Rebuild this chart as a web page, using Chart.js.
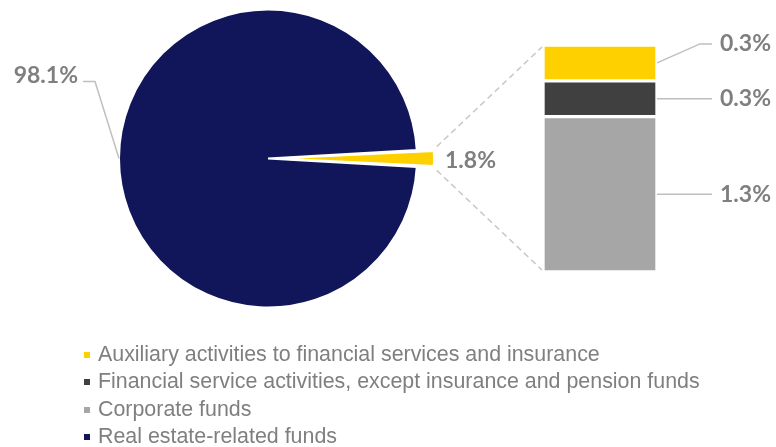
<!DOCTYPE html>
<html>
<head>
<meta charset="utf-8">
<script src="https://cdn.jsdelivr.net/npm/chart.js@4.4.1/dist/chart.umd.min.js"></script>
<style>
  html, body { margin: 0; padding: 0; background: #fff; }
  #wrap { position: relative; width: 776px; height: 447px; overflow: hidden; }
  #wrap canvas { position: absolute; left: 0; top: 0; }
  #legend {
    position: absolute; left: 84px; top: 341px; margin: 0; padding: 0; list-style: none;
    font: 21.4px "Liberation Sans", Arial, sans-serif; color: #7f7f7f;
    line-height: 27.4px; white-space: nowrap;
  }
  #legend li { position: relative; padding-left: 14px; }
  #legend li span { position: absolute; left: 0; top: 11px; width: 6px; height: 6px; }
</style>
</head>
<body>
<div id="wrap">
  <canvas id="pie" width="776" height="447"></canvas>
  <canvas id="bar" width="776" height="447"></canvas>
  <ul id="legend"></ul>
</div>
<script>
// Sector shares of the fund total (%)
const pieCategories = ['Real estate-related funds', 'Other financial activities'];
const pieValues = [98.1, 1.8];

// Breakdown of the small slice, bottom to top
const barCategories = [
  'Corporate funds',
  'Financial service activities, except insurance and pension funds',
  'Auxiliary activities to financial services and insurance'
];
const barValues = [1.3, 0.3, 0.3];

// Legend entries, top to bottom
const legendLabels = [
  'Auxiliary activities to financial services and insurance',
  'Financial service activities, except insurance and pension funds',
  'Corporate funds',
  'Real estate-related funds'
];

// Styles
const NAVY = '#11165a', YELLOW = '#ffd000', DARK = '#404040', LIGHT = '#a6a6a6';
const pieColors = [NAVY, YELLOW];
const barColors = [LIGHT, DARK, YELLOW];
const legendColors = [YELLOW, DARK, LIGHT, NAVY];
const LABEL_FONT = 'bold 23px Lato, "Open Sans", sans-serif';
const TEXT_COLOR = '#7f7f7f';
const LEADER_COLOR = '#bfbfbf';
const DASH_COLOR = '#c8c8c8';
const SLICE_PULL = 17;               // px the small slice's tip is pulled out
const fmt = v => v.toFixed(1) + '%';

const pieTotal = pieValues.reduce((a, b) => a + b, 0);
const smallSweep = pieValues[1] / pieTotal * 360;
const smallSweepRad = smallSweep * Math.PI / 180;

// Chart.js v4 arcs translate by offset/4 and grow their radius by
// offset/4 * (1 - sin(circumference)); pick the offset giving SLICE_PULL.
const sliceOffset = 4 * SLICE_PULL / (2 - Math.sin(Math.min(Math.PI, smallSweepRad)));

// Drawn geometry of an arc, including its pull-out
function arcGeometry(arc) {
  const t = (arc.options.offset || 0) / 4;
  const fix = 1 - Math.sin(Math.min(Math.PI, arc.circumference || 0));
  const mid = (arc.startAngle + arc.endAngle) / 2;
  return {
    cx: arc.x + Math.cos(mid) * t,
    cy: arc.y + Math.sin(mid) * t,
    r: arc.outerRadius + t * fix,
    mid
  };
}

// Percentage labels for the pie, with a leader line for the large slice
const pieLabelPlugin = {
  id: 'pieLabels',
  afterDatasetsDraw(chart) {
    const ctx = chart.ctx;
    const arcs = chart.getDatasetMeta(0).data;
    const big = arcs[0], small = arcs[1];
    ctx.save();
    ctx.font = LABEL_FONT;
    ctx.fillStyle = TEXT_COLOR;
    ctx.strokeStyle = LEADER_COLOR;
    ctx.lineWidth = 1.5;

    const ax = big.x - big.outerRadius, ay = big.y;
    const ex = ax - 24, ey = ay - 77;
    ctx.beginPath();
    ctx.moveTo(ax, ay);
    ctx.lineTo(ex, ey);
    ctx.lineTo(ex - 12, ey);
    ctx.stroke();
    ctx.textAlign = 'right';
    ctx.textBaseline = 'middle';
    ctx.fillText(fmt(pieValues[0]), ex - 17, ey - 6);

    const g = arcGeometry(small);
    const tx = g.cx + Math.cos(g.mid) * g.r;
    const ty = g.cy + Math.sin(g.mid) * g.r;
    ctx.textAlign = 'left';
    ctx.fillText(fmt(pieValues[1]), tx + 11, ty + 2);
    ctx.restore();
  }
};

const pieChart = new Chart(document.getElementById('pie'), {
  type: 'pie',
  data: {
    labels: pieCategories,
    datasets: [{
      data: pieValues,
      backgroundColor: pieColors,
      borderColor: '#ffffff',
      borderWidth: 2,
      offset: [0, sliceOffset],
      radius: 149
    }]
  },
  options: {
    responsive: false,
    animation: false,
    events: [],
    rotation: 90 + smallSweep / 2,
    layout: { padding: { left: 100, right: 340, top: 0, bottom: 130 } },
    plugins: { legend: { display: false }, tooltip: { enabled: false } }
  },
  plugins: [pieLabelPlugin]
});

// Value labels to the right of each stacked segment
const barLabelPlugin = {
  id: 'barLabels',
  afterDatasetsDraw(chart) {
    const ctx = chart.ctx;
    const n = chart.data.datasets.length;
    ctx.save();
    ctx.font = LABEL_FONT;
    ctx.fillStyle = TEXT_COLOR;
    ctx.strokeStyle = LEADER_COLOR;
    ctx.lineWidth = 1.5;
    ctx.textAlign = 'left';
    ctx.textBaseline = 'middle';
    chart.data.datasets.forEach((ds, i) => {
      const bar = chart.getDatasetMeta(i).data[0];
      const right = bar.x + bar.width / 2;
      const cy = (bar.y + bar.base) / 2;
      const lift = i === n - 1 ? 19 : 0;
      const lx = right + 55;
      ctx.beginPath();
      ctx.moveTo(right, cy);
      if (lift) ctx.lineTo(lx - 12, cy - lift);
      ctx.lineTo(lx, cy - lift);
      ctx.stroke();
      ctx.fillText(fmt(ds.data[0]), lx + 8, cy - lift);
    });
    ctx.restore();
  }
};

// Dashed lines joining the pulled-out slice to the stacked column
const connectorPlugin = {
  id: 'connector',
  beforeDatasetsDraw(chart) {
    const arc = pieChart.getDatasetMeta(0).data[1];
    const g = arcGeometry(arc);
    const p1 = { x: g.cx + Math.cos(arc.startAngle) * g.r + 3, y: g.cy + Math.sin(arc.startAngle) * g.r - 3 };
    const p2 = { x: g.cx + Math.cos(arc.endAngle) * g.r + 3, y: g.cy + Math.sin(arc.endAngle) * g.r + 3 };
    const bars = chart.data.datasets.map((d, i) => chart.getDatasetMeta(i).data[0]);
    const top = bars[bars.length - 1], bottom = bars[0];
    const left = bottom.x - bottom.width / 2 - 1;
    const ctx = chart.ctx;
    ctx.save();
    ctx.strokeStyle = DASH_COLOR;
    ctx.lineWidth = 1.5;
    ctx.setLineDash([6, 4]);
    ctx.beginPath();
    ctx.moveTo(p1.x, p1.y);
    ctx.lineTo(left, top.y + 2);
    ctx.moveTo(p2.x, p2.y);
    ctx.lineTo(left, bottom.base - 2);
    ctx.stroke();
    ctx.restore();
  }
};

const barChart = new Chart(document.getElementById('bar'), {
  type: 'bar',
  data: {
    labels: [''],
    datasets: barCategories.map((name, i) => ({
      label: name,
      data: [barValues[i]],
      backgroundColor: barColors[i],
      borderColor: '#ffffff',
      borderWidth: 2,
      borderSkipped: false,
      barPercentage: 1,
      categoryPercentage: 1
    }))
  },
  options: {
    responsive: false,
    animation: false,
    events: [],
    layout: { padding: { left: 543, right: 119, top: 45, bottom: 175 } },
    scales: {
      x: { display: false, stacked: true },
      y: { display: false, stacked: true, min: 0, max: barValues.reduce((a, b) => a + b, 0) }
    },
    plugins: { legend: { display: false }, tooltip: { enabled: false } }
  },
  plugins: [barLabelPlugin, connectorPlugin]
});

// Legend
const legendEl = document.getElementById('legend');
legendLabels.forEach((text, i) => {
  const li = document.createElement('li');
  const box = document.createElement('span');
  box.style.background = legendColors[i];
  li.appendChild(box);
  li.appendChild(document.createTextNode(text));
  legendEl.appendChild(li);
});
</script>
</body>
</html>
